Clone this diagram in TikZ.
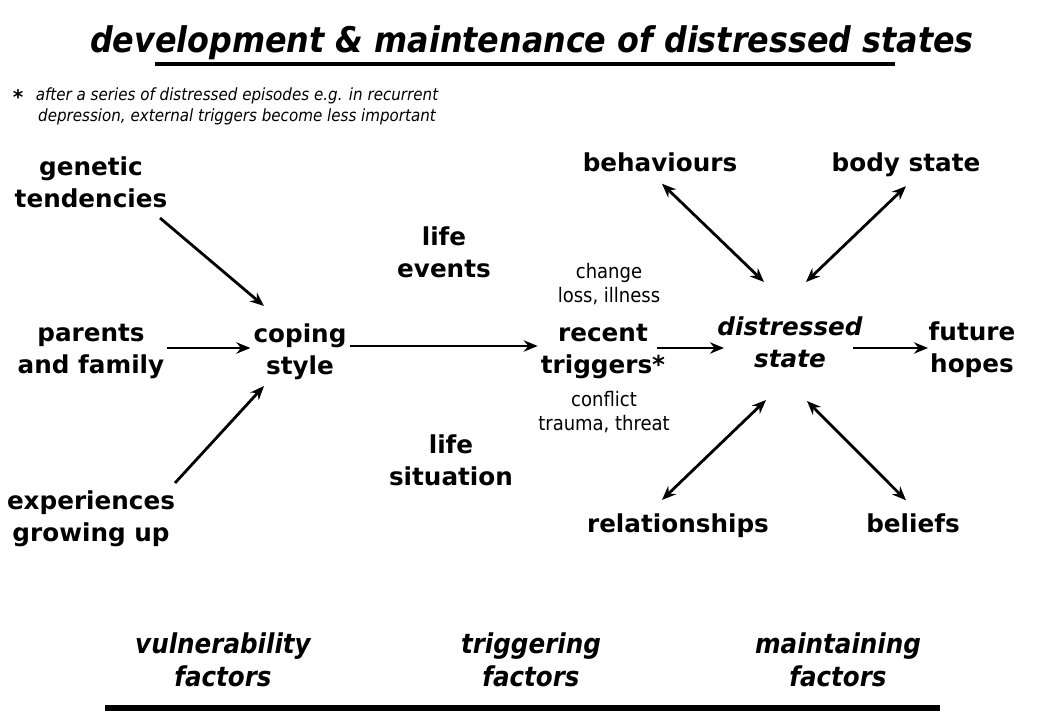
\documentclass[tikz,border=0pt]{standalone}
\usepackage{fontspec}
\setmainfont{DejaVu Sans}
\newfontfamily\condfont{DejaVu Sans Condensed}
\usetikzlibrary{arrows.meta,calc}

\tikzset{every picture/.style={line width=0.75pt}}
\tikzset{
  lbl/.style={font=\bfseries\fontsize{18.5}{24}\selectfont, align=center, inner sep=2pt},
  cause/.style={font=\condfont\fontsize{15}{18}\selectfont, align=center, inner sep=1pt},
  fact/.style={font=\condfont\bfseries\itshape\fontsize{20.5}{25}\selectfont, align=center},
  arr/.style={line width=2.1pt, -{Stealth[length=10.5pt,width=8.5pt]}},
  dbl/.style={line width=2.1pt, {Stealth[length=10.5pt,width=8.5pt]}-{Stealth[length=10.5pt,width=8.5pt]}}
}

\begin{document}
\begin{tikzpicture}[x=0.75pt,y=0.75pt,yscale=-1,xscale=1]
  \path[use as bounding box] (0,0) rectangle (1040,720);

  % title and note
  \node[font=\condfont\bfseries\itshape\fontsize{26.5}{30}\selectfont] (title) at (532,43) {development \& maintenance of distressed states};
  \draw[line width=2.5pt] (155,64) -- (895,64);
  \node[font=\bfseries\fontsize{15}{15}\selectfont, inner sep=0pt] (star) at (18,97) {*};
  \node[font=\condfont\itshape\fontsize{12.6}{15.75}\selectfont, align=center, inner sep=0pt] (note) at (237,106)
    {after a series of distressed episodes e.g. in recurrent\\depression, external triggers become less important};

  % vulnerability
  \node[lbl] (gen) at (91,182) {genetic\\tendencies};
  \node[lbl] (par) at (91,352) {parents\\and family};
  \node[lbl] (exp) at (91,519) {experiences\\growing up};
  \node[lbl] (cope) at (300,352) {coping\\style};

  % triggering
  \node[lbl] (events) at (444,252) {life\\events};
  \node[lbl] (situ) at (451,460) {life\\situation};
  \node[cause] (loss) at (609,284) {change\\loss, illness};
  \node[lbl] (trig) at (603,352) {recent\\triggers*};
  \node[cause] (threat) at (604,412) {conflict\\trauma, threat};

  % maintaining
  \node[lbl, font=\bfseries\itshape\fontsize{18.5}{24}\selectfont] (dist) at (790,342) {distressed\\state};
  \node[lbl] (hope) at (972,350) {future\\hopes};
  \node[lbl] (beh) at (660,162) {behaviours};
  \node[lbl] (body) at (906,165) {body state};
  \node[lbl] (rel) at (678,526) {relationships};
  \node[lbl] (bel) at (913,523) {beliefs};

  % arrows
  \draw[arr] ($(gen)+(69,36)$) -- ($(cope)+(-36,-46)$);
  \draw[arr] ([yshift=-3pt]par.east) -- ([yshift=-3pt]cope.west);
  \draw[arr] ($(exp)+(84,-36)$) -- ($(cope)+(-36,34)$);
  \draw[arr] ([yshift=-4.5pt]cope.east) -- ([yshift=-4.5pt]trig.west);
  \draw[arr] ($(trig)+(54,-4)$) -- ($(trig)+(121,-4)$);
  \draw[arr] ($(hope)+(-119,-2)$) -- ($(hope)+(-44,-2)$);
  \draw[dbl] ($(beh.south)+(2,9)$) -- ($(dist.center)+(-26,-60)$);
  \draw[dbl] ($(body.south)+(0,6)$) -- ($(dist.center)+(16,-60)$);
  \draw[dbl] ($(rel.north)+(-16,-11)$) -- ($(dist.center)+(-24,58)$);
  \draw[dbl] ($(bel.north)+(-7,-10)$) -- ($(dist.center)+(17,59)$);

  % factors
  \node[fact] (vul) at (223,660) {vulnerability\\factors};
  \node[fact] (trf) at (531,660) {triggering\\factors};
  \node[fact] (maf) at (838,660) {maintaining\\factors};
  \draw[line width=3.8pt] (105,708) -- (940,708);
\end{tikzpicture}
\end{document}
